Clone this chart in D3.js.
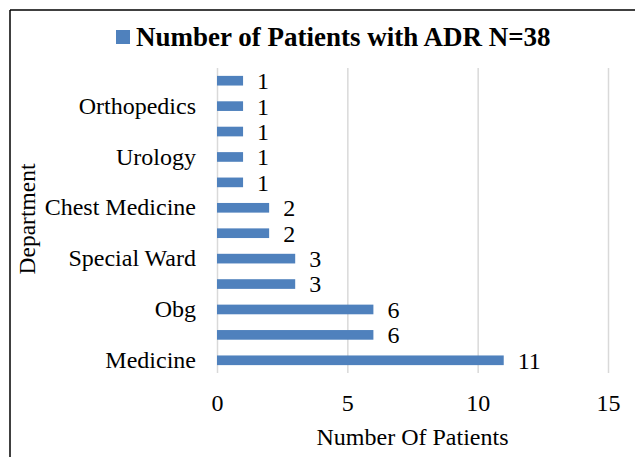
<!DOCTYPE html>
<html>
<head>
<meta charset="utf-8">
<script src="https://cdn.jsdelivr.net/npm/d3@7"></script>
<style>
  html, body { margin: 0; padding: 0; background: #fff; }
  svg { display: block; }
  text { font-family: "Liberation Serif", "Times New Roman", serif; }
</style>
</head>
<body>
<svg id="chart" width="635" height="457"></svg>
<script>
// Categories from bottom to top; only alternate names are legible in the reference
const categories = ["Medicine", "", "Obg", "", "Special Ward", "", "Chest Medicine", "", "Urology", "", "Orthopedics", ""];
const values = [11, 6, 6, 3, 3, 2, 2, 1, 1, 1, 1, 1];
const xTicks = [0, 5, 10, 15];
const seriesName = "Number of Patients with ADR N=38";
const xTitle = "Number Of Patients";
const yTitle = "Department";

const FONT = "'Liberation Serif', 'Times New Roman', serif";
const svg = d3.select("#chart");
const margin = { left: 217, right: 27, top: 68, bottom: 84 };
const W = 635, H = 457;

const x = d3.scaleLinear().domain([0, 15]).range([margin.left, W - margin.right]);
const idx = d3.range(categories.length);
const y = d3.scaleBand().domain(idx).range([H - margin.bottom, margin.top])
  .paddingInner(0.62).paddingOuter(0.31);

// border (top and left visible)
svg.append("line").attr("x1", 10).attr("x2", W).attr("y1", 10).attr("y2", 10)
  .attr("stroke", "#000").attr("stroke-width", 1.5);
svg.append("line").attr("x1", 10).attr("x2", 10).attr("y1", 10).attr("y2", H)
  .attr("stroke", "#000").attr("stroke-width", 1.5);

// gridlines
const gridAxis = d3.axisBottom(x).tickValues(xTicks).tickSize(-(H - margin.bottom - margin.top)).tickFormat("");
const grid = svg.append("g").attr("transform", `translate(0,${H - margin.bottom})`).call(gridAxis);
grid.select(".domain").remove();
grid.selectAll("line").attr("stroke", "#d9d9d9").attr("stroke-width", 1.5);

// x axis labels
const xAxis = d3.axisBottom(x).tickValues(xTicks).tickSize(0).tickPadding(21);
const xg = svg.append("g").attr("transform", `translate(0,${H - margin.bottom})`).call(xAxis)
  .attr("font-family", FONT).attr("font-size", 24);
xg.select(".domain").remove();
xg.selectAll("text").attr("fill", "#000");

// y axis labels (only named categories)
const yAxis = d3.axisLeft(y).tickValues(idx.filter(i => categories[i] !== ""))
  .tickFormat(i => categories[i]).tickSize(0).tickPadding(21);
const yg = svg.append("g").attr("transform", `translate(${margin.left},0)`).call(yAxis)
  .attr("font-family", FONT).attr("font-size", 24);
yg.select(".domain").remove();
yg.selectAll("text").attr("fill", "#000");

// bars
svg.append("g").selectAll("rect").data(idx).join("rect")
  .attr("x", x(0))
  .attr("y", i => y(i))
  .attr("width", i => x(values[i]) - x(0))
  .attr("height", y.bandwidth())
  .attr("fill", "#4f81bd");

// value labels
svg.append("g").selectAll("text").data(idx).join("text")
  .attr("x", i => x(values[i]) + 14)
  .attr("y", i => y(i) + y.bandwidth() / 2)
  .attr("dy", "0.35em")
  .attr("font-size", 24)
  .attr("fill", "#000")
  .text(i => values[i]);

// legend / title
svg.append("rect").attr("x", 116).attr("y", 30).attr("width", 14).attr("height", 14).attr("fill", "#4f81bd");
svg.append("text").attr("x", 136).attr("y", 46).attr("font-size", 27).attr("font-weight", "bold")
  .attr("fill", "#000").text(seriesName);

// axis titles
svg.append("text").attr("x", (x(0) + x(15)) / 2).attr("y", 445).attr("text-anchor", "middle")
  .attr("font-size", 24).attr("fill", "#000").text(xTitle);
svg.append("text").attr("transform", "translate(35,219) rotate(-90)").attr("text-anchor", "middle")
  .attr("font-size", 23.5).attr("fill", "#000").text(yTitle);
</script>
</body>
</html>
